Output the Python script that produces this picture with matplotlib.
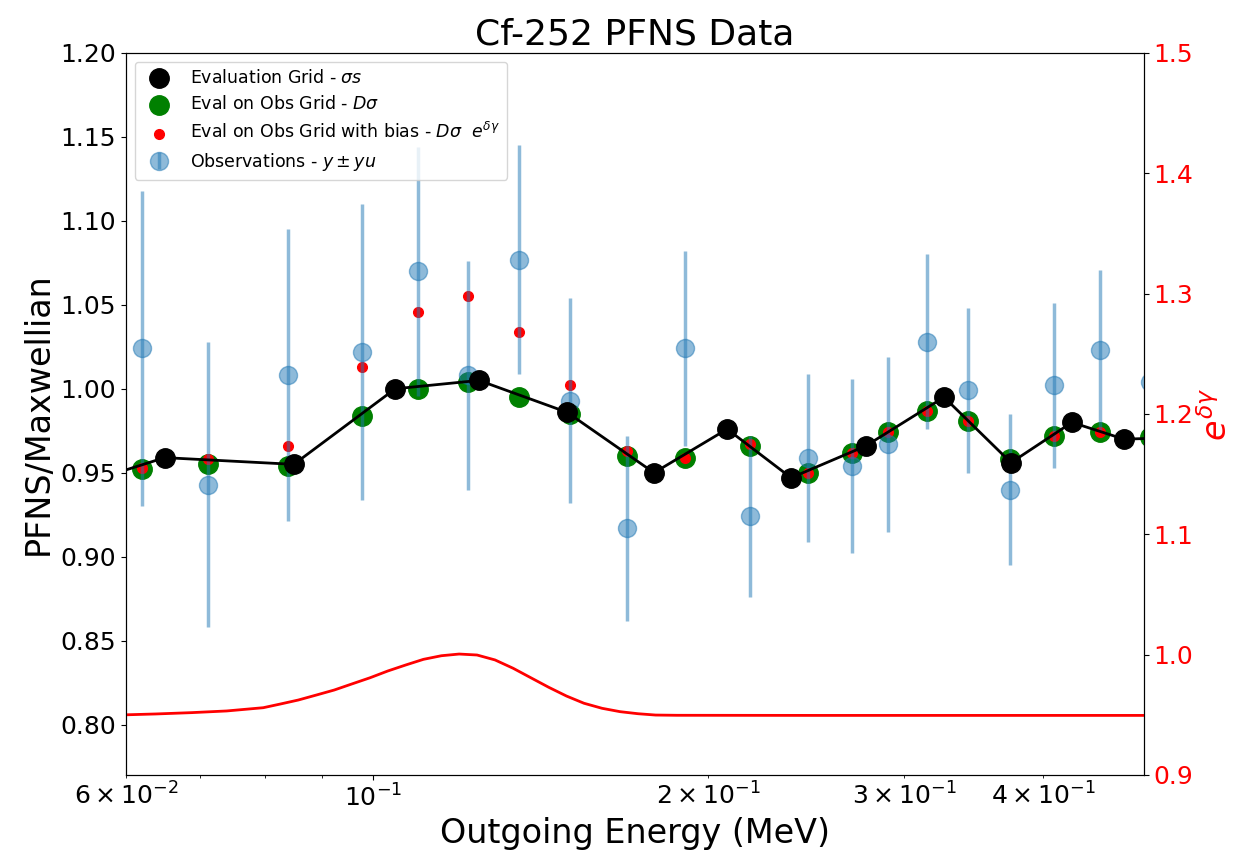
import matplotlib.pyplot as plt
import numpy as np

# observation grid (MeV) and measured PFNS/Maxwellian ratios
e_obs = [0.0620, 0.0711, 0.0839, 0.0978, 0.1098, 0.1217, 0.1352, 0.1503, 0.1690, 0.1906,
         0.2181, 0.2458, 0.2692, 0.2900, 0.3145, 0.3422, 0.3733, 0.4088, 0.4496, 0.4990]
y_obs = [1.024, 0.943, 1.008, 1.022, 1.070, 1.008, 1.077, 0.993, 0.917, 1.024,
         0.924, 0.959, 0.954, 0.967, 1.028, 0.999, 0.940, 1.002, 1.023, 1.004]
y_err = [0.094, 0.085, 0.087, 0.088, 0.074, 0.068, 0.068, 0.061, 0.055, 0.058,
         0.048, 0.050, 0.052, 0.052, 0.052, 0.049, 0.045, 0.049, 0.048, 0.048]

# evaluation interpolated on the observation grid, without and with bias
d_sigma = [0.952, 0.955, 0.954, 0.984, 1.000, 1.004, 0.995, 0.985, 0.960, 0.959,
           0.966, 0.950, 0.962, 0.974, 0.987, 0.981, 0.958, 0.972, 0.974, 0.971]
d_sigma_bias = [0.953, 0.958, 0.966, 1.013, 1.046, 1.055, 1.034, 1.002, 0.963, 0.959,
                0.967, 0.950, 0.962, 0.974, 0.987, 0.981, 0.958, 0.972, 0.974, 0.971]

# evaluation grid
e_eval = [0.0570, 0.0650, 0.0849, 0.1047, 0.1245, 0.1494, 0.1788, 0.2080,
          0.2374, 0.2771, 0.3257, 0.3741, 0.4243, 0.4725, 0.5305]
sigma_s = [0.947, 0.959, 0.955, 1.000, 1.005, 0.986, 0.950, 0.976,
           0.947, 0.966, 0.995, 0.956, 0.980, 0.970, 0.971]

# bias factor e^{delta gamma}
e_bias = [0.0600, 0.0638, 0.0687, 0.0739, 0.0797, 0.0826, 0.0857, 0.0890, 0.0923, 0.0957,
          0.0994, 0.1031, 0.1070, 0.1110, 0.1152, 0.1195, 0.1240, 0.1287, 0.1336, 0.1386,
          0.1438, 0.1492, 0.1547, 0.1606, 0.1667, 0.1730, 0.1794, 0.1875, 0.2500, 0.3500,
          0.4925]
bias = [0.9500, 0.9507, 0.9518, 0.9532, 0.9559, 0.9590, 0.9623, 0.9665, 0.9706, 0.9756,
        0.9808, 0.9864, 0.9914, 0.9961, 0.9991, 1.0005, 0.9997, 0.9956, 0.9887, 0.9808,
        0.9729, 0.9656, 0.9596, 0.9554, 0.9526, 0.9509, 0.9498, 0.9496, 0.9495, 0.9495,
        0.9495]

fig = plt.figure(figsize=(12.47, 8.63), dpi=100)
ax = fig.add_axes([0.101, 0.102, 0.8164, 0.8366])

ax.scatter(e_obs, d_sigma, s=14**2, color='green', zorder=2,
           label=r'Eval on Obs Grid - $D\sigma$')
ax.scatter(e_obs, d_sigma_bias, s=7**2, color='red', zorder=3,
           label=r'Eval on Obs Grid with bias - $D\sigma$  $e^{\delta\gamma}$')
ax.errorbar(e_obs, y_obs, yerr=y_err, fmt='o', markersize=13, color='tab:blue',
            alpha=0.5, elinewidth=2.5, zorder=4, label=r'Observations - $y \pm yu$')
ax.plot(e_eval, sigma_s, '-', color='black', lw=2, zorder=5)
ax.scatter(e_eval, sigma_s, s=14**2, color='black', zorder=6,
           label=r'Evaluation Grid - $\sigma s$')

ax.set_xscale('log')
ax.set_xlim(0.06, 0.4925)
ax.set_ylim(0.77, 1.2)
ax.set_yticks(np.arange(0.80, 1.201, 0.05))
ax.tick_params(which='both', labelsize=18)
ax.set_xlabel('Outgoing Energy (MeV)', fontsize=24)
ax.set_ylabel('PFNS/Maxwellian', fontsize=24)
ax.set_title('Cf-252 PFNS Data', fontsize=26)

handles, labels = ax.get_legend_handles_labels()
order = [2, 0, 1, 3]
ax.legend([handles[i] for i in order], [labels[i] for i in order],
          loc='upper left', fontsize=12.5)

ax2 = ax.twinx()
ax2.plot(e_bias, bias, color='red', lw=2)
ax2.set_ylim(0.9, 1.5)
ax2.set_yticks([0.9, 1.0, 1.1, 1.2, 1.3, 1.4, 1.5])
ax2.tick_params(labelsize=18, labelcolor='red')
ax2.set_ylabel(r'$e^{\delta\gamma}$', fontsize=24, color='red')
ax2.set_xlim(0.06, 0.4925)

fig.savefig('out.png', dpi=100)
